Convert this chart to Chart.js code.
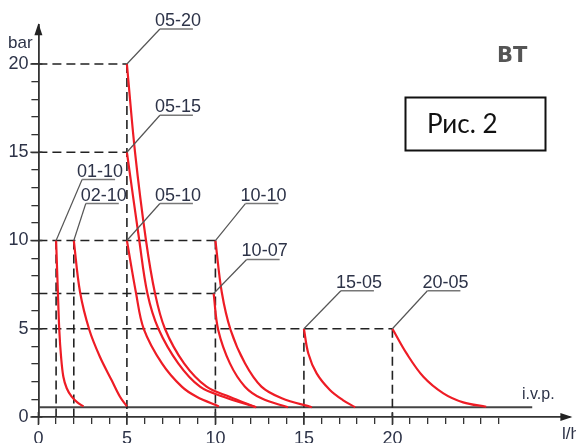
<!DOCTYPE html>
<html>
<head>
<meta charset="utf-8">
<script src="https://cdn.jsdelivr.net/npm/chart.js@4"></script>
<style>
  body { margin: 0; background: #fff; }
  canvas { display: block; }
</style>
</head>
<body>
<canvas id="c" width="576" height="443"></canvas>
<script>
// curve names and the points (x in l/h, y in bar)
const curveLabels = ['01-10', '02-10', '05-10', '05-15', '05-20', '10-07', '10-10', '15-05', '20-05'];
const curveX = [
  [1.0, 1.1, 1.18, 1.28, 1.41, 1.6, 1.88, 2.2, 2.55],
  [2.0, 2.35, 2.88, 3.48, 4.14, 4.61, 5.0],
  [5.0, 5.52, 5.95, 6.98, 8.1, 8.94, 10.2],
  [5.0, 5.7, 6.16, 6.78, 7.9, 9.13, 10.45, 12.3],
  [5.0, 5.46, 6.08, 6.59, 7.15, 8.23, 9.5, 10.8, 12.3],
  [9.9, 10.16, 10.82, 11.67, 12.6, 14.1],
  [10.0, 10.36, 10.86, 11.67, 12.6, 13.75, 15.45],
  [15.0, 15.25, 15.72, 16.47, 17.2, 17.9],
  [20.0, 20.8, 21.75, 22.88, 24.0, 25.3]
];
const curveY = [
  [10, 7.1, 4.93, 3.42, 2.28, 1.63, 1.15, 0.83, 0.6],
  [10, 7.1, 4.93, 3.4, 2.08, 1.15, 0.6],
  [10, 7, 5, 3.04, 1.72, 1.15, 0.6],
  [15, 10, 7, 5, 3.04, 1.72, 1.15, 0.55],
  [20, 15, 10, 7, 5, 3.04, 1.72, 1.15, 0.55],
  [7, 4.93, 3.04, 1.72, 1.06, 0.55],
  [10, 7.07, 4.93, 3.04, 1.72, 1.06, 0.55],
  [5, 3.6, 2.47, 1.53, 0.96, 0.55],
  [5, 3.6, 2.28, 1.34, 0.83, 0.58]
];

// dashed guide lines
const guideLevels = [20, 15, 10, 7, 5];      // horizontal, from the y axis
const guideLevelEnds = [5, 5, 10, 10, 20];
const guideFlows = [1, 2, 5, 10, 15, 20];    // vertical, down to 0
const guideFlowTops = [10, 10, 20, 10, 5, 5];

// i.v.p. line
const ivpLevel = 0.55;
const ivpEnd = 27.9;

const xTickLabels = [0, 5, 10, 15, 20];
const yTickLabels = [0, 5, 10, 15, 20];

// leader line offsets for each curve label, in pixels
const leaderDX = [26, 12, 33, 33, 33, 33, 30, 37, 35];
const leaderDY = [-61, -37, -37, -37, -35, -34, -37, -38, -38];

const textColor = '#2d3348';
const datasets = [];

curveLabels.forEach((name, i) => {
  datasets.push({
    label: name,
    data: curveX[i].map((x, j) => ({ x: x, y: curveY[i][j] })),
    borderColor: '#ee1c25',
    borderWidth: 2.2,
    pointRadius: 0,
    tension: 0.35,
    order: 0
  });
});

guideLevels.forEach((lv, i) => {
  datasets.push({
    data: [{ x: 0, y: lv }, { x: guideLevelEnds[i], y: lv }],
    borderColor: '#222',
    borderWidth: 1.6,
    borderDash: [9, 5],
    pointRadius: 0,
    order: 1
  });
});

guideFlows.forEach((fl, i) => {
  datasets.push({
    data: [{ x: fl, y: guideFlowTops[i] }, { x: fl, y: 0 }],
    borderColor: '#222',
    borderWidth: 1.6,
    borderDash: [9, 5],
    pointRadius: 0,
    order: 1
  });
});

datasets.push({
  data: [{ x: 0, y: ivpLevel }, { x: ivpEnd, y: ivpLevel }],
  borderColor: '#444',
  borderWidth: 2,
  pointRadius: 0,
  order: 1
});

const decorations = {
  id: 'decorations',
  afterDraw(chart) {
    const ctx = chart.ctx;
    const xs = chart.scales.x, ys = chart.scales.y;
    const area = chart.chartArea;
    ctx.save();

    // arrow heads
    ctx.fillStyle = '#222';
    ctx.beginPath();
    ctx.moveTo(area.left, area.top - 2);
    ctx.lineTo(area.left - 4, area.top + 10);
    ctx.lineTo(area.left + 4, area.top + 10);
    ctx.fill();
    ctx.beginPath();
    ctx.moveTo(area.right + 3, area.bottom);
    ctx.lineTo(area.right - 9, area.bottom - 4);
    ctx.lineTo(area.right - 9, area.bottom + 4);
    ctx.fill();

    // major ticks cross the axes
    ctx.strokeStyle = '#333';
    ctx.lineWidth = 1.5;
    xTickLabels.forEach(v => {
      const px = xs.getPixelForValue(v);
      ctx.beginPath();
      ctx.moveTo(px, area.bottom - 5);
      ctx.lineTo(px, area.bottom + 8);
      ctx.stroke();
    });
    yTickLabels.forEach(v => {
      const py = ys.getPixelForValue(v);
      ctx.beginPath();
      ctx.moveTo(area.left - 8, py);
      ctx.lineTo(area.left + 4, py);
      ctx.stroke();
    });

    // curve labels with leader lines
    ctx.font = '18px "Liberation Sans", Arial, sans-serif';
    ctx.textBaseline = 'alphabetic';
    ctx.textAlign = 'center';
    curveLabels.forEach((name, i) => {
      const ax = xs.getPixelForValue(curveX[i][0]);
      const ay = ys.getPixelForValue(curveY[i][0]);
      const ux = ax + leaderDX[i], uy = ay + leaderDY[i];
      ctx.strokeStyle = '#555';
      ctx.lineWidth = 1.2;
      ctx.beginPath();
      ctx.moveTo(ax, ay);
      ctx.lineTo(ux, uy);
      ctx.stroke();
      ctx.strokeStyle = '#777';
      ctx.lineWidth = 1.6;
      ctx.beginPath();
      ctx.moveTo(ux, uy);
      ctx.lineTo(ux + 33, uy);
      ctx.stroke();
      ctx.fillStyle = textColor;
      ctx.fillText(name, ux + 18, uy - 3);
    });

    // axis titles
    ctx.textAlign = 'left';
    ctx.font = '17px "Liberation Sans", Arial, sans-serif';
    ctx.fillText('bar', 8, 48);
    ctx.fillText('l/h', 562, 439);
    ctx.font = '16px "Liberation Sans", Arial, sans-serif';
    ctx.fillText('i.v.p.', 522, 399);

    // BT mark and figure box
    ctx.fillStyle = '#555';
    ctx.font = 'bold 21px "DejaVu Sans", sans-serif';
    ctx.fillText('BT', 497, 62);
    ctx.strokeStyle = '#111';
    ctx.lineWidth = 2;
    ctx.strokeRect(405.5, 97.5, 140, 53);
    ctx.fillStyle = '#111';
    ctx.font = '26px Lato, sans-serif';
    ctx.fillText('Рис. 2', 427, 133);

    ctx.restore();
  }
};

new Chart(document.getElementById('c'), {
  type: 'line',
  data: { datasets: datasets },
  options: {
    responsive: false,
    animation: false,
    events: [],
    layout: { padding: { top: 25.2, right: 6.6, left: 0, bottom: 0 } },
    plugins: { legend: { display: false }, tooltip: { enabled: false } },
    scales: {
      x: {
        type: 'linear',
        min: 0,
        max: 30,
        afterFit: s => { s.height = 26; },
        afterBuildTicks: s => { s.ticks = s.ticks.filter(t => t.value <= 26); },
        ticks: {
          stepSize: 1,
          autoSkip: false,
          maxRotation: 0,
          padding: 4,
          color: textColor,
          font: { family: '"Liberation Sans", Arial, sans-serif', size: 18 },
          callback: v => xTickLabels.includes(v) ? String(v) : ''
        },
        grid: { drawOnChartArea: false, drawTicks: true, tickLength: 7, color: '#333', lineWidth: 1.3 },
        border: { display: true, color: '#333', width: 1.8 }
      },
      y: {
        type: 'linear',
        min: 0,
        max: 22.2,
        afterFit: s => { s.width = 38.4; },
        afterBuildTicks: s => { s.ticks = s.ticks.filter(t => t.value <= 20); },
        ticks: {
          stepSize: 1,
          autoSkip: false,
          padding: 3,
          color: textColor,
          font: { family: '"Liberation Sans", Arial, sans-serif', size: 18 },
          callback: v => yTickLabels.includes(v) ? String(v) : ''
        },
        grid: { drawOnChartArea: false, drawTicks: true, tickLength: 7, color: '#333', lineWidth: 1.3 },
        border: { display: true, color: '#333', width: 1.8 }
      }
    }
  },
  plugins: [decorations]
});
</script>
</body>
</html>
